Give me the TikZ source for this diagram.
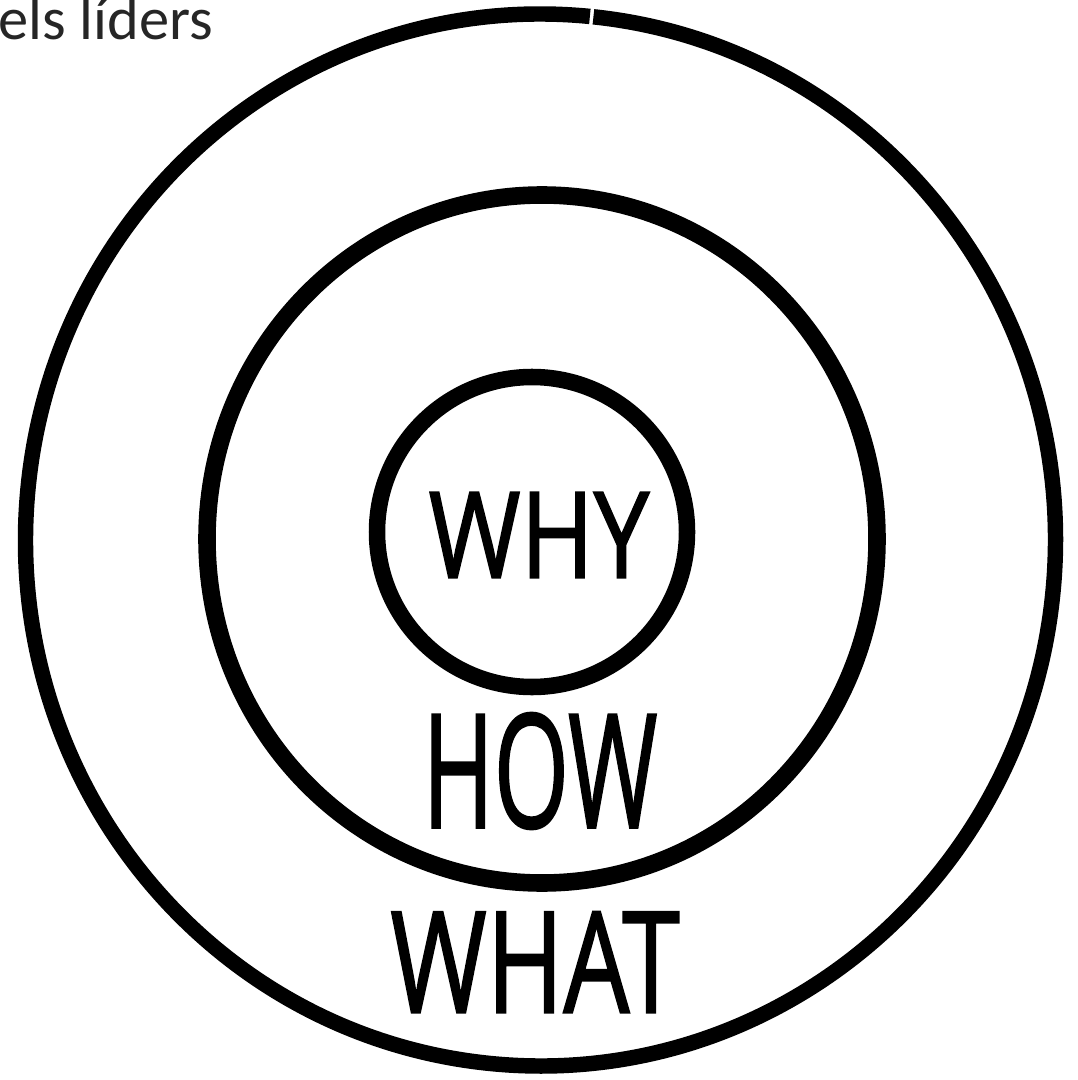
\documentclass[tikz,border=0pt]{standalone}
\usepackage{fontspec}
\setmainfont{Carlito}
\newfontfamily\handfont[FakeBold=1.6]{Open Sans}
\usepackage{tikz}
\usetikzlibrary{positioning}
\tikzset{
  ring/.style   = {draw=black, line width=4.4pt},
  hand/.style   = {inner sep=0pt, transform shape, text=black, font=\handfont},
  title/.style  = {inner sep=0pt, anchor=base west, text=black!85,
                   font=\fontsize{17.2}{20}\selectfont},
}

\begin{document}
\begin{tikzpicture}
    \useasboundingbox (0,0) rectangle (10.78,-10.80);

    %% Title in the top left corner
    \node[title] (title) at (-0.02,-0.40) {els líders};

    %% Rings (outer one has a small break at the top)
    \draw[ring] (5.405,-5.40) ++(84.5:5.15 and 5.26)
        arc[start angle=84.5, end angle=444.1, x radius=5.15, y radius=5.26];
    \draw[ring, line width=5.0pt] (5.42,-5.39) ellipse[x radius=3.35, y radius=3.44];
    \draw[ring, line width=4.7pt] (5.32,-5.32) ellipse[x radius=1.55, y radius=1.55];

    %% Labels
    \node[hand, font=\handfont\fontsize{34}{40}\selectfont, xscale=0.83] (why)  at (5.39,-5.35) {WHY};
    \node[hand, font=\handfont\fontsize{45}{52}\selectfont, xscale=0.61] (how)  at (5.40,-7.71) {HOW};
    \node[hand, font=\handfont\fontsize{40}{46}\selectfont, xscale=0.74] (what) at (5.35,-9.62) {WHAT};

\end{tikzpicture}
\end{document}
